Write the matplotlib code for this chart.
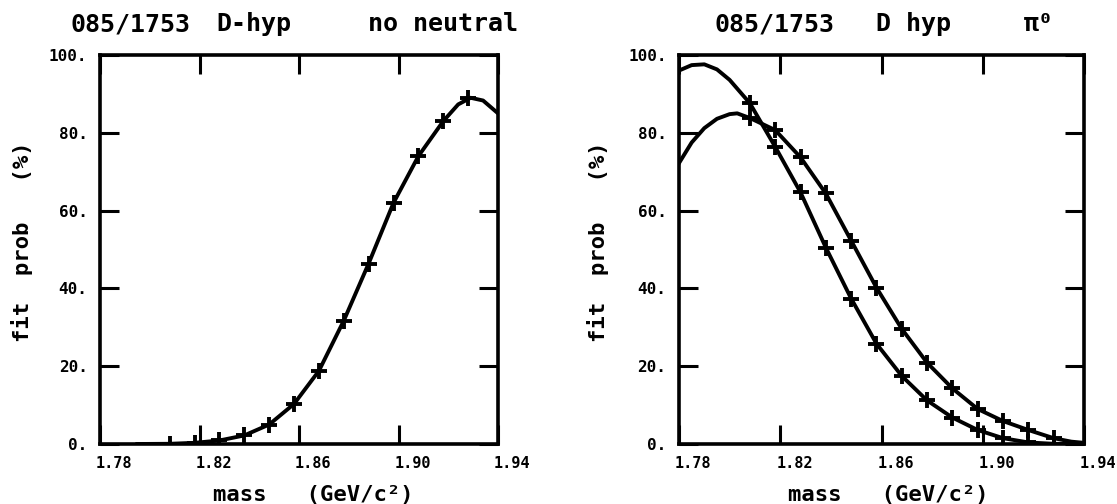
import numpy as np
import matplotlib
matplotlib.use('Agg')
import matplotlib.pyplot as plt
import matplotlib.transforms as mtransforms

# pontos medidos (mesma grade de massa para todos os marcadores)
mass_pts = [1.808, 1.818, 1.828, 1.838, 1.848, 1.858, 1.868,
            1.878, 1.888, 1.898, 1.908, 1.918, 1.928]

# painel esquerdo: no neutral
prob_noneutral = [0.05, 0.3, 0.9, 2.2, 5.0, 10.3, 18.8,
                  31.7, 46.4, 62.0, 74.0, 83.0, 89.0]
fit_x_noneutral = [1.795, 1.808, 1.818, 1.828, 1.838, 1.848, 1.858, 1.868,
                   1.878, 1.888, 1.898, 1.908, 1.918, 1.924, 1.929, 1.934, 1.940]
fit_y_noneutral = [0.0, 0.05, 0.3, 0.9, 2.2, 5.0, 10.3, 18.8,
                   31.7, 46.4, 62.0, 74.0, 83.0, 87.3, 89.0, 88.3, 85.0]

# painel direito: pi0, duas curvas
prob_pi0_a = [87.6, 76.4, 64.7, 50.5, 37.4, 25.8, 17.5,
              11.2, 6.8, 3.6, 1.5, 0.4, 0.05]
fit_x_pi0_a = [1.780, 1.785, 1.790, 1.795, 1.800, 1.808, 1.818, 1.828, 1.838,
               1.848, 1.858, 1.868, 1.878, 1.888, 1.898, 1.908, 1.918, 1.928, 1.935, 1.940]
fit_y_pi0_a = [96.0, 97.4, 97.6, 96.3, 93.6, 87.6, 76.4, 64.7, 50.5,
               37.4, 25.8, 17.5, 11.2, 6.8, 3.6, 1.5, 0.4, 0.05, 0.0, 0.0]

prob_pi0_b = [83.8, 80.7, 73.7, 64.4, 52.3, 40.2, 29.6,
              20.9, 14.3, 9.0, 5.9, 3.6, 1.5]
fit_x_pi0_b = [1.780, 1.785, 1.790, 1.795, 1.800, 1.803, 1.808, 1.818, 1.828, 1.838,
               1.848, 1.858, 1.868, 1.878, 1.888, 1.898, 1.908, 1.918, 1.928, 1.935, 1.940]
fit_y_pi0_b = [72.2, 77.5, 81.2, 83.6, 84.8, 85.0, 83.8, 80.7, 73.7, 64.4,
               52.3, 40.2, 29.6, 20.9, 14.3, 9.0, 5.9, 3.6, 1.5, 0.6, 0.3]

xticks = [1.78, 1.82, 1.86, 1.90, 1.94]
xtick_labels = ['1.78', '1.82', '1.86', '1.90', '1.94']
yticks = [0, 20, 40, 60, 80, 100]
ytick_labels = ['0.', '20.', '40.', '60.', '80.', '100.']

FONT = ['DejaVu Sans Mono', 'DejaVu Sans']
plt.rcParams['font.family'] = FONT
plt.rcParams['font.weight'] = 'bold'

W, H = 1117, 504
fig = plt.figure(figsize=(W / 100, H / 100), dpi=100)

ax1 = fig.add_axes([100 / W, 1 - 444 / H, 398 / W, 389 / H])
ax2 = fig.add_axes([679 / W, 1 - 444 / H, 405 / W, 389 / H])


def estilo(ax, xlab_x, ylab_x):
    ax.set_xlim(1.78, 1.94)
    ax.set_ylim(0, 100)
    ax.set_xticks(xticks)
    ax.set_xticklabels(xtick_labels, fontsize=11, fontweight='bold')
    ax.set_yticks(yticks)
    ax.set_yticklabels(ytick_labels, fontsize=11.5, fontweight='bold')
    ax.tick_params(direction='in', length=14, width=2.2, top=True, right=True,
                   pad=9, color='black')
    for s in ax.spines.values():
        s.set_linewidth(2.6)
    # rotulos do eixo x comecam logo a esquerda do tick
    off = mtransforms.ScaledTranslation(-4 / 100, 0, fig.dpi_scale_trans)
    for lab in ax.get_xticklabels():
        lab.set_ha('left')
        lab.set_transform(lab.get_transform() + off)
    ax.set_xlabel('mass   (GeV/c²)', fontsize=16, fontweight='bold')
    ax.xaxis.set_label_coords(xlab_x, -0.13)
    ax.xaxis.label.set_va('center')
    ax.set_ylabel('fit  prob   (%)', fontsize=16, fontweight='bold')
    ax.yaxis.set_label_coords(ylab_x, 0.52)
    ax.yaxis.label.set_va('center')


estilo(ax1, 0.535, -0.196)
estilo(ax2, 0.518, -0.2)

ax1.plot(fit_x_noneutral, fit_y_noneutral, color='black', lw=2.8)
ax1.plot(mass_pts, prob_noneutral, ls='none', marker='+', ms=11, mew=2.8, color='black')

ax2.plot(fit_x_pi0_a, fit_y_pi0_a, color='black', lw=2.8)
ax2.plot(mass_pts, prob_pi0_a, ls='none', marker='+', ms=11, mew=2.8, color='black')
ax2.plot(fit_x_pi0_b, fit_y_pi0_b, color='black', lw=2.8)
ax2.plot(mass_pts, prob_pi0_b, ls='none', marker='+', ms=11, mew=2.8, color='black')

# titulos
ty = 1 - 24 / H
for x, s in [(71, '085/1753'), (216, 'D-hyp'), (368, 'no neutral'),
             (714, '085/1753'), (876, 'D hyp'), (1024, 'π⁰')]:
    fig.text(x / W, ty, s, fontsize=18, fontweight='bold', ha='left', va='center',
             family=FONT)

fig.savefig('out.png', dpi=100)
